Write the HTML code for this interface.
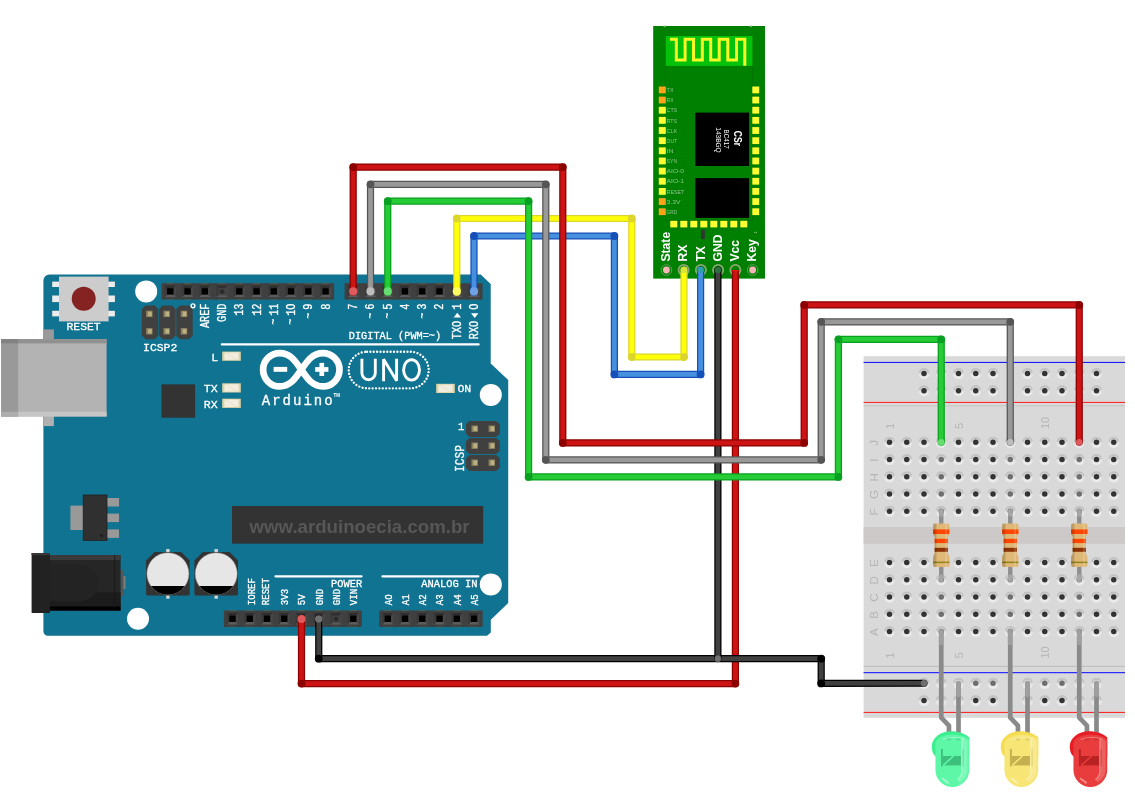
<!DOCTYPE html>
<html><head><meta charset="utf-8"><title>Arduino HC-05 LEDs</title>
<style>html,body{margin:0;padding:0;background:#fff;font-family:"Liberation Sans",sans-serif;}svg{display:block;filter:blur(0.4px);}</style>
</head><body>
<svg width="1135" height="800" viewBox="0 0 1135 800">
<defs><linearGradient id="hg" x1="0" y1="0" x2="0" y2="1"><stop offset="0" stop-color="#cdcdcd"/><stop offset="0.42" stop-color="#d6d6d6"/><stop offset="0.58" stop-color="#e4e4e4"/><stop offset="1" stop-color="#efefef"/></linearGradient><g id="h"><circle r="5.6" fill="url(#hg)"/><path d="M-4.4 -0.5 A4.43 4.43 0 0 1 4.4 -0.5" stroke="#bdbdbd" stroke-width="1.5" fill="none" opacity="0.85"/></g><g id="hd"><use href="#h"/><circle r="2.75" fill="#333"/></g><g id="hc"><use href="#h"/><circle r="2.75" fill="#6e6e6e"/></g></defs>
<rect width="1135" height="800" fill="#fff"/>
<g id="arduino">
<path d="M49.4 274.5 H480.7 L490.7 283.9 V363.5 L508.2 380 V603 L490.8 619.7 V632.5 L487 635.7 H47.8 A4.4 4.4 0 0 1 43.4 631.3 V280.5 A6 6 0 0 1 49.4 274.5 Z" fill="#0f7391"/>
<circle cx="146.2" cy="291.4" r="11" fill="#fff"/>
<circle cx="490.8" cy="394.9" r="11" fill="#fff"/>
<circle cx="138" cy="618.7" r="11" fill="#fff"/>
<circle cx="490.8" cy="584.4" r="11" fill="#fff"/>
<rect x="161.70" y="283.20" width="172.45" height="16.4" fill="#404040"/>
<path d="M164.60 285.70 H176.00 L173.50 288.20 H167.10 Z" fill="#2e2e2e"/>
<path d="M164.60 297.10 H176.00 L173.50 294.60 H167.10 Z" fill="#5c5c5c"/>
<path d="M164.60 285.70 V297.10 L167.10 294.60 V288.20 Z" fill="#393939"/>
<path d="M176.00 285.70 V297.10 L173.50 294.60 V288.20 Z" fill="#474747"/>
<rect x="167.10" y="288.20" width="6.4" height="6.4" fill="#000"/>
<rect x="166.70" y="282.90" width="7.2" height="0.7" fill="#8a6d3b" opacity="0.55"/><rect x="166.70" y="299.30" width="7.2" height="0.7" fill="#8a6d3b" opacity="0.4"/>
<path d="M181.85 285.70 H193.25 L190.75 288.20 H184.35 Z" fill="#2e2e2e"/>
<path d="M181.85 297.10 H193.25 L190.75 294.60 H184.35 Z" fill="#5c5c5c"/>
<path d="M181.85 285.70 V297.10 L184.35 294.60 V288.20 Z" fill="#393939"/>
<path d="M193.25 285.70 V297.10 L190.75 294.60 V288.20 Z" fill="#474747"/>
<rect x="184.35" y="288.20" width="6.4" height="6.4" fill="#000"/>
<rect x="183.95" y="282.90" width="7.2" height="0.7" fill="#8a6d3b" opacity="0.55"/><rect x="183.95" y="299.30" width="7.2" height="0.7" fill="#8a6d3b" opacity="0.4"/>
<path d="M199.10 285.70 H210.50 L208.00 288.20 H201.60 Z" fill="#2e2e2e"/>
<path d="M199.10 297.10 H210.50 L208.00 294.60 H201.60 Z" fill="#5c5c5c"/>
<path d="M199.10 285.70 V297.10 L201.60 294.60 V288.20 Z" fill="#393939"/>
<path d="M210.50 285.70 V297.10 L208.00 294.60 V288.20 Z" fill="#474747"/>
<rect x="201.60" y="288.20" width="6.4" height="6.4" fill="#000"/>
<rect x="201.20" y="282.90" width="7.2" height="0.7" fill="#8a6d3b" opacity="0.55"/><rect x="201.20" y="299.30" width="7.2" height="0.7" fill="#8a6d3b" opacity="0.4"/>
<path d="M216.35 285.70 H227.75 L225.25 288.20 H218.85 Z" fill="#2e2e2e"/>
<path d="M216.35 297.10 H227.75 L225.25 294.60 H218.85 Z" fill="#5c5c5c"/>
<path d="M216.35 285.70 V297.10 L218.85 294.60 V288.20 Z" fill="#393939"/>
<path d="M227.75 285.70 V297.10 L225.25 294.60 V288.20 Z" fill="#474747"/>
<rect x="218.85" y="288.20" width="6.4" height="6.4" fill="#000"/>
<rect x="218.45" y="282.90" width="7.2" height="0.7" fill="#8a6d3b" opacity="0.55"/><rect x="218.45" y="299.30" width="7.2" height="0.7" fill="#8a6d3b" opacity="0.4"/>
<path d="M233.60 285.70 H245.00 L242.50 288.20 H236.10 Z" fill="#2e2e2e"/>
<path d="M233.60 297.10 H245.00 L242.50 294.60 H236.10 Z" fill="#5c5c5c"/>
<path d="M233.60 285.70 V297.10 L236.10 294.60 V288.20 Z" fill="#393939"/>
<path d="M245.00 285.70 V297.10 L242.50 294.60 V288.20 Z" fill="#474747"/>
<rect x="236.10" y="288.20" width="6.4" height="6.4" fill="#000"/>
<rect x="235.70" y="282.90" width="7.2" height="0.7" fill="#8a6d3b" opacity="0.55"/><rect x="235.70" y="299.30" width="7.2" height="0.7" fill="#8a6d3b" opacity="0.4"/>
<path d="M250.85 285.70 H262.25 L259.75 288.20 H253.35 Z" fill="#2e2e2e"/>
<path d="M250.85 297.10 H262.25 L259.75 294.60 H253.35 Z" fill="#5c5c5c"/>
<path d="M250.85 285.70 V297.10 L253.35 294.60 V288.20 Z" fill="#393939"/>
<path d="M262.25 285.70 V297.10 L259.75 294.60 V288.20 Z" fill="#474747"/>
<rect x="253.35" y="288.20" width="6.4" height="6.4" fill="#000"/>
<rect x="252.95" y="282.90" width="7.2" height="0.7" fill="#8a6d3b" opacity="0.55"/><rect x="252.95" y="299.30" width="7.2" height="0.7" fill="#8a6d3b" opacity="0.4"/>
<path d="M268.10 285.70 H279.50 L277.00 288.20 H270.60 Z" fill="#2e2e2e"/>
<path d="M268.10 297.10 H279.50 L277.00 294.60 H270.60 Z" fill="#5c5c5c"/>
<path d="M268.10 285.70 V297.10 L270.60 294.60 V288.20 Z" fill="#393939"/>
<path d="M279.50 285.70 V297.10 L277.00 294.60 V288.20 Z" fill="#474747"/>
<rect x="270.60" y="288.20" width="6.4" height="6.4" fill="#000"/>
<rect x="270.20" y="282.90" width="7.2" height="0.7" fill="#8a6d3b" opacity="0.55"/><rect x="270.20" y="299.30" width="7.2" height="0.7" fill="#8a6d3b" opacity="0.4"/>
<path d="M285.35 285.70 H296.75 L294.25 288.20 H287.85 Z" fill="#2e2e2e"/>
<path d="M285.35 297.10 H296.75 L294.25 294.60 H287.85 Z" fill="#5c5c5c"/>
<path d="M285.35 285.70 V297.10 L287.85 294.60 V288.20 Z" fill="#393939"/>
<path d="M296.75 285.70 V297.10 L294.25 294.60 V288.20 Z" fill="#474747"/>
<rect x="287.85" y="288.20" width="6.4" height="6.4" fill="#000"/>
<rect x="287.45" y="282.90" width="7.2" height="0.7" fill="#8a6d3b" opacity="0.55"/><rect x="287.45" y="299.30" width="7.2" height="0.7" fill="#8a6d3b" opacity="0.4"/>
<path d="M302.60 285.70 H314.00 L311.50 288.20 H305.10 Z" fill="#2e2e2e"/>
<path d="M302.60 297.10 H314.00 L311.50 294.60 H305.10 Z" fill="#5c5c5c"/>
<path d="M302.60 285.70 V297.10 L305.10 294.60 V288.20 Z" fill="#393939"/>
<path d="M314.00 285.70 V297.10 L311.50 294.60 V288.20 Z" fill="#474747"/>
<rect x="305.10" y="288.20" width="6.4" height="6.4" fill="#000"/>
<rect x="304.70" y="282.90" width="7.2" height="0.7" fill="#8a6d3b" opacity="0.55"/><rect x="304.70" y="299.30" width="7.2" height="0.7" fill="#8a6d3b" opacity="0.4"/>
<path d="M319.85 285.70 H331.25 L328.75 288.20 H322.35 Z" fill="#2e2e2e"/>
<path d="M319.85 297.10 H331.25 L328.75 294.60 H322.35 Z" fill="#5c5c5c"/>
<path d="M319.85 285.70 V297.10 L322.35 294.60 V288.20 Z" fill="#393939"/>
<path d="M331.25 285.70 V297.10 L328.75 294.60 V288.20 Z" fill="#474747"/>
<rect x="322.35" y="288.20" width="6.4" height="6.4" fill="#000"/>
<rect x="321.95" y="282.90" width="7.2" height="0.7" fill="#8a6d3b" opacity="0.55"/><rect x="321.95" y="299.30" width="7.2" height="0.7" fill="#8a6d3b" opacity="0.4"/>
<rect x="344.60" y="283.20" width="137.95" height="16.4" fill="#404040"/>
<path d="M347.50 285.70 H358.90 L356.40 288.20 H350.00 Z" fill="#2e2e2e"/>
<path d="M347.50 297.10 H358.90 L356.40 294.60 H350.00 Z" fill="#5c5c5c"/>
<path d="M347.50 285.70 V297.10 L350.00 294.60 V288.20 Z" fill="#393939"/>
<path d="M358.90 285.70 V297.10 L356.40 294.60 V288.20 Z" fill="#474747"/>
<rect x="350.00" y="288.20" width="6.4" height="6.4" fill="#000"/>
<rect x="349.60" y="282.90" width="7.2" height="0.7" fill="#8a6d3b" opacity="0.55"/><rect x="349.60" y="299.30" width="7.2" height="0.7" fill="#8a6d3b" opacity="0.4"/>
<path d="M364.75 285.70 H376.15 L373.65 288.20 H367.25 Z" fill="#2e2e2e"/>
<path d="M364.75 297.10 H376.15 L373.65 294.60 H367.25 Z" fill="#5c5c5c"/>
<path d="M364.75 285.70 V297.10 L367.25 294.60 V288.20 Z" fill="#393939"/>
<path d="M376.15 285.70 V297.10 L373.65 294.60 V288.20 Z" fill="#474747"/>
<rect x="367.25" y="288.20" width="6.4" height="6.4" fill="#000"/>
<rect x="366.85" y="282.90" width="7.2" height="0.7" fill="#8a6d3b" opacity="0.55"/><rect x="366.85" y="299.30" width="7.2" height="0.7" fill="#8a6d3b" opacity="0.4"/>
<path d="M382.00 285.70 H393.40 L390.90 288.20 H384.50 Z" fill="#2e2e2e"/>
<path d="M382.00 297.10 H393.40 L390.90 294.60 H384.50 Z" fill="#5c5c5c"/>
<path d="M382.00 285.70 V297.10 L384.50 294.60 V288.20 Z" fill="#393939"/>
<path d="M393.40 285.70 V297.10 L390.90 294.60 V288.20 Z" fill="#474747"/>
<rect x="384.50" y="288.20" width="6.4" height="6.4" fill="#000"/>
<rect x="384.10" y="282.90" width="7.2" height="0.7" fill="#8a6d3b" opacity="0.55"/><rect x="384.10" y="299.30" width="7.2" height="0.7" fill="#8a6d3b" opacity="0.4"/>
<path d="M399.25 285.70 H410.65 L408.15 288.20 H401.75 Z" fill="#2e2e2e"/>
<path d="M399.25 297.10 H410.65 L408.15 294.60 H401.75 Z" fill="#5c5c5c"/>
<path d="M399.25 285.70 V297.10 L401.75 294.60 V288.20 Z" fill="#393939"/>
<path d="M410.65 285.70 V297.10 L408.15 294.60 V288.20 Z" fill="#474747"/>
<rect x="401.75" y="288.20" width="6.4" height="6.4" fill="#000"/>
<rect x="401.35" y="282.90" width="7.2" height="0.7" fill="#8a6d3b" opacity="0.55"/><rect x="401.35" y="299.30" width="7.2" height="0.7" fill="#8a6d3b" opacity="0.4"/>
<path d="M416.50 285.70 H427.90 L425.40 288.20 H419.00 Z" fill="#2e2e2e"/>
<path d="M416.50 297.10 H427.90 L425.40 294.60 H419.00 Z" fill="#5c5c5c"/>
<path d="M416.50 285.70 V297.10 L419.00 294.60 V288.20 Z" fill="#393939"/>
<path d="M427.90 285.70 V297.10 L425.40 294.60 V288.20 Z" fill="#474747"/>
<rect x="419.00" y="288.20" width="6.4" height="6.4" fill="#000"/>
<rect x="418.60" y="282.90" width="7.2" height="0.7" fill="#8a6d3b" opacity="0.55"/><rect x="418.60" y="299.30" width="7.2" height="0.7" fill="#8a6d3b" opacity="0.4"/>
<path d="M433.75 285.70 H445.15 L442.65 288.20 H436.25 Z" fill="#2e2e2e"/>
<path d="M433.75 297.10 H445.15 L442.65 294.60 H436.25 Z" fill="#5c5c5c"/>
<path d="M433.75 285.70 V297.10 L436.25 294.60 V288.20 Z" fill="#393939"/>
<path d="M445.15 285.70 V297.10 L442.65 294.60 V288.20 Z" fill="#474747"/>
<rect x="436.25" y="288.20" width="6.4" height="6.4" fill="#000"/>
<rect x="435.85" y="282.90" width="7.2" height="0.7" fill="#8a6d3b" opacity="0.55"/><rect x="435.85" y="299.30" width="7.2" height="0.7" fill="#8a6d3b" opacity="0.4"/>
<path d="M451.00 285.70 H462.40 L459.90 288.20 H453.50 Z" fill="#2e2e2e"/>
<path d="M451.00 297.10 H462.40 L459.90 294.60 H453.50 Z" fill="#5c5c5c"/>
<path d="M451.00 285.70 V297.10 L453.50 294.60 V288.20 Z" fill="#393939"/>
<path d="M462.40 285.70 V297.10 L459.90 294.60 V288.20 Z" fill="#474747"/>
<rect x="453.50" y="288.20" width="6.4" height="6.4" fill="#000"/>
<rect x="453.10" y="282.90" width="7.2" height="0.7" fill="#8a6d3b" opacity="0.55"/><rect x="453.10" y="299.30" width="7.2" height="0.7" fill="#8a6d3b" opacity="0.4"/>
<path d="M468.25 285.70 H479.65 L477.15 288.20 H470.75 Z" fill="#2e2e2e"/>
<path d="M468.25 297.10 H479.65 L477.15 294.60 H470.75 Z" fill="#5c5c5c"/>
<path d="M468.25 285.70 V297.10 L470.75 294.60 V288.20 Z" fill="#393939"/>
<path d="M479.65 285.70 V297.10 L477.15 294.60 V288.20 Z" fill="#474747"/>
<rect x="470.75" y="288.20" width="6.4" height="6.4" fill="#000"/>
<rect x="470.35" y="282.90" width="7.2" height="0.7" fill="#8a6d3b" opacity="0.55"/><rect x="470.35" y="299.30" width="7.2" height="0.7" fill="#8a6d3b" opacity="0.4"/>
<rect x="223.90" y="610.50" width="137.95" height="16.4" fill="#404040"/>
<path d="M226.80 613.00 H238.20 L235.70 615.50 H229.30 Z" fill="#2e2e2e"/>
<path d="M226.80 624.40 H238.20 L235.70 621.90 H229.30 Z" fill="#5c5c5c"/>
<path d="M226.80 613.00 V624.40 L229.30 621.90 V615.50 Z" fill="#393939"/>
<path d="M238.20 613.00 V624.40 L235.70 621.90 V615.50 Z" fill="#474747"/>
<rect x="229.30" y="615.50" width="6.4" height="6.4" fill="#000"/>
<rect x="228.90" y="610.20" width="7.2" height="0.7" fill="#8a6d3b" opacity="0.55"/><rect x="228.90" y="626.60" width="7.2" height="0.7" fill="#8a6d3b" opacity="0.4"/>
<path d="M244.05 613.00 H255.45 L252.95 615.50 H246.55 Z" fill="#2e2e2e"/>
<path d="M244.05 624.40 H255.45 L252.95 621.90 H246.55 Z" fill="#5c5c5c"/>
<path d="M244.05 613.00 V624.40 L246.55 621.90 V615.50 Z" fill="#393939"/>
<path d="M255.45 613.00 V624.40 L252.95 621.90 V615.50 Z" fill="#474747"/>
<rect x="246.55" y="615.50" width="6.4" height="6.4" fill="#000"/>
<rect x="246.15" y="610.20" width="7.2" height="0.7" fill="#8a6d3b" opacity="0.55"/><rect x="246.15" y="626.60" width="7.2" height="0.7" fill="#8a6d3b" opacity="0.4"/>
<path d="M261.30 613.00 H272.70 L270.20 615.50 H263.80 Z" fill="#2e2e2e"/>
<path d="M261.30 624.40 H272.70 L270.20 621.90 H263.80 Z" fill="#5c5c5c"/>
<path d="M261.30 613.00 V624.40 L263.80 621.90 V615.50 Z" fill="#393939"/>
<path d="M272.70 613.00 V624.40 L270.20 621.90 V615.50 Z" fill="#474747"/>
<rect x="263.80" y="615.50" width="6.4" height="6.4" fill="#000"/>
<rect x="263.40" y="610.20" width="7.2" height="0.7" fill="#8a6d3b" opacity="0.55"/><rect x="263.40" y="626.60" width="7.2" height="0.7" fill="#8a6d3b" opacity="0.4"/>
<path d="M278.55 613.00 H289.95 L287.45 615.50 H281.05 Z" fill="#2e2e2e"/>
<path d="M278.55 624.40 H289.95 L287.45 621.90 H281.05 Z" fill="#5c5c5c"/>
<path d="M278.55 613.00 V624.40 L281.05 621.90 V615.50 Z" fill="#393939"/>
<path d="M289.95 613.00 V624.40 L287.45 621.90 V615.50 Z" fill="#474747"/>
<rect x="281.05" y="615.50" width="6.4" height="6.4" fill="#000"/>
<rect x="280.65" y="610.20" width="7.2" height="0.7" fill="#8a6d3b" opacity="0.55"/><rect x="280.65" y="626.60" width="7.2" height="0.7" fill="#8a6d3b" opacity="0.4"/>
<path d="M295.80 613.00 H307.20 L304.70 615.50 H298.30 Z" fill="#2e2e2e"/>
<path d="M295.80 624.40 H307.20 L304.70 621.90 H298.30 Z" fill="#5c5c5c"/>
<path d="M295.80 613.00 V624.40 L298.30 621.90 V615.50 Z" fill="#393939"/>
<path d="M307.20 613.00 V624.40 L304.70 621.90 V615.50 Z" fill="#474747"/>
<rect x="298.30" y="615.50" width="6.4" height="6.4" fill="#000"/>
<rect x="297.90" y="610.20" width="7.2" height="0.7" fill="#8a6d3b" opacity="0.55"/><rect x="297.90" y="626.60" width="7.2" height="0.7" fill="#8a6d3b" opacity="0.4"/>
<path d="M313.05 613.00 H324.45 L321.95 615.50 H315.55 Z" fill="#2e2e2e"/>
<path d="M313.05 624.40 H324.45 L321.95 621.90 H315.55 Z" fill="#5c5c5c"/>
<path d="M313.05 613.00 V624.40 L315.55 621.90 V615.50 Z" fill="#393939"/>
<path d="M324.45 613.00 V624.40 L321.95 621.90 V615.50 Z" fill="#474747"/>
<rect x="315.55" y="615.50" width="6.4" height="6.4" fill="#000"/>
<rect x="315.15" y="610.20" width="7.2" height="0.7" fill="#8a6d3b" opacity="0.55"/><rect x="315.15" y="626.60" width="7.2" height="0.7" fill="#8a6d3b" opacity="0.4"/>
<path d="M330.30 613.00 H341.70 L339.20 615.50 H332.80 Z" fill="#2e2e2e"/>
<path d="M330.30 624.40 H341.70 L339.20 621.90 H332.80 Z" fill="#5c5c5c"/>
<path d="M330.30 613.00 V624.40 L332.80 621.90 V615.50 Z" fill="#393939"/>
<path d="M341.70 613.00 V624.40 L339.20 621.90 V615.50 Z" fill="#474747"/>
<rect x="332.80" y="615.50" width="6.4" height="6.4" fill="#000"/>
<rect x="332.40" y="610.20" width="7.2" height="0.7" fill="#8a6d3b" opacity="0.55"/><rect x="332.40" y="626.60" width="7.2" height="0.7" fill="#8a6d3b" opacity="0.4"/>
<path d="M347.55 613.00 H358.95 L356.45 615.50 H350.05 Z" fill="#2e2e2e"/>
<path d="M347.55 624.40 H358.95 L356.45 621.90 H350.05 Z" fill="#5c5c5c"/>
<path d="M347.55 613.00 V624.40 L350.05 621.90 V615.50 Z" fill="#393939"/>
<path d="M358.95 613.00 V624.40 L356.45 621.90 V615.50 Z" fill="#474747"/>
<rect x="350.05" y="615.50" width="6.4" height="6.4" fill="#000"/>
<rect x="349.65" y="610.20" width="7.2" height="0.7" fill="#8a6d3b" opacity="0.55"/><rect x="349.65" y="626.60" width="7.2" height="0.7" fill="#8a6d3b" opacity="0.4"/>
<rect x="379.20" y="610.50" width="103.45" height="16.4" fill="#404040"/>
<path d="M382.10 613.00 H393.50 L391.00 615.50 H384.60 Z" fill="#2e2e2e"/>
<path d="M382.10 624.40 H393.50 L391.00 621.90 H384.60 Z" fill="#5c5c5c"/>
<path d="M382.10 613.00 V624.40 L384.60 621.90 V615.50 Z" fill="#393939"/>
<path d="M393.50 613.00 V624.40 L391.00 621.90 V615.50 Z" fill="#474747"/>
<rect x="384.60" y="615.50" width="6.4" height="6.4" fill="#000"/>
<rect x="384.20" y="610.20" width="7.2" height="0.7" fill="#8a6d3b" opacity="0.55"/><rect x="384.20" y="626.60" width="7.2" height="0.7" fill="#8a6d3b" opacity="0.4"/>
<path d="M399.35 613.00 H410.75 L408.25 615.50 H401.85 Z" fill="#2e2e2e"/>
<path d="M399.35 624.40 H410.75 L408.25 621.90 H401.85 Z" fill="#5c5c5c"/>
<path d="M399.35 613.00 V624.40 L401.85 621.90 V615.50 Z" fill="#393939"/>
<path d="M410.75 613.00 V624.40 L408.25 621.90 V615.50 Z" fill="#474747"/>
<rect x="401.85" y="615.50" width="6.4" height="6.4" fill="#000"/>
<rect x="401.45" y="610.20" width="7.2" height="0.7" fill="#8a6d3b" opacity="0.55"/><rect x="401.45" y="626.60" width="7.2" height="0.7" fill="#8a6d3b" opacity="0.4"/>
<path d="M416.60 613.00 H428.00 L425.50 615.50 H419.10 Z" fill="#2e2e2e"/>
<path d="M416.60 624.40 H428.00 L425.50 621.90 H419.10 Z" fill="#5c5c5c"/>
<path d="M416.60 613.00 V624.40 L419.10 621.90 V615.50 Z" fill="#393939"/>
<path d="M428.00 613.00 V624.40 L425.50 621.90 V615.50 Z" fill="#474747"/>
<rect x="419.10" y="615.50" width="6.4" height="6.4" fill="#000"/>
<rect x="418.70" y="610.20" width="7.2" height="0.7" fill="#8a6d3b" opacity="0.55"/><rect x="418.70" y="626.60" width="7.2" height="0.7" fill="#8a6d3b" opacity="0.4"/>
<path d="M433.85 613.00 H445.25 L442.75 615.50 H436.35 Z" fill="#2e2e2e"/>
<path d="M433.85 624.40 H445.25 L442.75 621.90 H436.35 Z" fill="#5c5c5c"/>
<path d="M433.85 613.00 V624.40 L436.35 621.90 V615.50 Z" fill="#393939"/>
<path d="M445.25 613.00 V624.40 L442.75 621.90 V615.50 Z" fill="#474747"/>
<rect x="436.35" y="615.50" width="6.4" height="6.4" fill="#000"/>
<rect x="435.95" y="610.20" width="7.2" height="0.7" fill="#8a6d3b" opacity="0.55"/><rect x="435.95" y="626.60" width="7.2" height="0.7" fill="#8a6d3b" opacity="0.4"/>
<path d="M451.10 613.00 H462.50 L460.00 615.50 H453.60 Z" fill="#2e2e2e"/>
<path d="M451.10 624.40 H462.50 L460.00 621.90 H453.60 Z" fill="#5c5c5c"/>
<path d="M451.10 613.00 V624.40 L453.60 621.90 V615.50 Z" fill="#393939"/>
<path d="M462.50 613.00 V624.40 L460.00 621.90 V615.50 Z" fill="#474747"/>
<rect x="453.60" y="615.50" width="6.4" height="6.4" fill="#000"/>
<rect x="453.20" y="610.20" width="7.2" height="0.7" fill="#8a6d3b" opacity="0.55"/><rect x="453.20" y="626.60" width="7.2" height="0.7" fill="#8a6d3b" opacity="0.4"/>
<path d="M468.35 613.00 H479.75 L477.25 615.50 H470.85 Z" fill="#2e2e2e"/>
<path d="M468.35 624.40 H479.75 L477.25 621.90 H470.85 Z" fill="#5c5c5c"/>
<path d="M468.35 613.00 V624.40 L470.85 621.90 V615.50 Z" fill="#393939"/>
<path d="M479.75 613.00 V624.40 L477.25 621.90 V615.50 Z" fill="#474747"/>
<rect x="470.85" y="615.50" width="6.4" height="6.4" fill="#000"/>
<rect x="470.45" y="610.20" width="7.2" height="0.7" fill="#8a6d3b" opacity="0.55"/><rect x="470.45" y="626.60" width="7.2" height="0.7" fill="#8a6d3b" opacity="0.4"/>
<rect x="218.4" y="287.9" width="7.4" height="7.4" fill="#404040"/><circle cx="222.1" cy="291.5" r="2.9" fill="#2a2a2a" stroke="#555" stroke-width="0.6"/>
<rect x="332.3" y="615.3" width="7.4" height="7.4" fill="#404040"/><circle cx="336" cy="619" r="2.9" fill="#2a2a2a" stroke="#555" stroke-width="0.6"/>
<rect x="52.2" y="281.6" width="62.7" height="5.4" fill="#ececec"/>
<rect x="52.2" y="295.5" width="62.7" height="6.6" fill="#ececec"/>
<rect x="52.2" y="310.8" width="62.7" height="5.6" fill="#ececec"/>
<rect x="59" y="276.6" width="49.6" height="44.8" fill="#cccccc"/>
<circle cx="83.7" cy="298.8" r="12" fill="#852323"/>
<path d="M145.50 305.4 H154.70 L158.30 309 V335.6 L154.70 339.2 H145.50 L141.90 335.6 V309 Z" fill="#404040"/>
<rect x="146.10" y="310.70" width="6.4" height="6.4" fill="#8d835c"/>
<rect x="148.10" y="311.70" width="3.6" height="4.4" fill="#bdb286"/>
<rect x="146.10" y="328.10" width="6.4" height="6.4" fill="#8d835c"/>
<rect x="148.10" y="329.10" width="3.6" height="4.4" fill="#bdb286"/>
<path d="M162.70 305.4 H171.90 L175.50 309 V335.6 L171.90 339.2 H162.70 L159.10 335.6 V309 Z" fill="#404040"/>
<rect x="163.45" y="310.70" width="6.4" height="6.4" fill="#8d835c"/>
<rect x="165.45" y="311.70" width="3.6" height="4.4" fill="#bdb286"/>
<rect x="163.45" y="328.10" width="6.4" height="6.4" fill="#8d835c"/>
<rect x="165.45" y="329.10" width="3.6" height="4.4" fill="#bdb286"/>
<path d="M179.90 305.4 H189.10 L192.70 309 V335.6 L189.10 339.2 H179.90 L176.30 335.6 V309 Z" fill="#404040"/>
<rect x="180.80" y="310.70" width="6.4" height="6.4" fill="#8d835c"/>
<rect x="182.80" y="311.70" width="3.6" height="4.4" fill="#bdb286"/>
<rect x="180.80" y="328.10" width="6.4" height="6.4" fill="#8d835c"/>
<rect x="182.80" y="329.10" width="3.6" height="4.4" fill="#bdb286"/>
<circle cx="193" cy="305.8" r="1.9" fill="#0f7391" stroke="#fff" stroke-width="1.4"/>
<path d="M469.6 420.90 H496.2 L499.8 424.30 V433.50 L496.2 436.90 H469.6 L466 433.50 V424.30 Z" fill="#404040"/>
<rect x="471.50" y="425.50" width="6.4" height="6.4" fill="#8d835c"/>
<rect x="473.50" y="426.50" width="3.6" height="4.4" fill="#bdb286"/>
<rect x="488.60" y="425.50" width="6.4" height="6.4" fill="#8d835c"/>
<rect x="490.60" y="426.50" width="3.6" height="4.4" fill="#bdb286"/>
<path d="M469.6 437.90 H496.2 L499.8 441.30 V450.50 L496.2 453.90 H469.6 L466 450.50 V441.30 Z" fill="#404040"/>
<rect x="471.50" y="442.50" width="6.4" height="6.4" fill="#8d835c"/>
<rect x="473.50" y="443.50" width="3.6" height="4.4" fill="#bdb286"/>
<rect x="488.60" y="442.50" width="6.4" height="6.4" fill="#8d835c"/>
<rect x="490.60" y="443.50" width="3.6" height="4.4" fill="#bdb286"/>
<path d="M469.6 454.90 H496.2 L499.8 458.30 V467.50 L496.2 470.90 H469.6 L466 467.50 V458.30 Z" fill="#404040"/>
<rect x="471.50" y="459.50" width="6.4" height="6.4" fill="#8d835c"/>
<rect x="473.50" y="460.50" width="3.6" height="4.4" fill="#bdb286"/>
<rect x="488.60" y="459.50" width="6.4" height="6.4" fill="#8d835c"/>
<rect x="490.60" y="460.50" width="3.6" height="4.4" fill="#bdb286"/>
<rect x="43.6" y="329.4" width="10.3" height="10" fill="#999"/>
<rect x="43.6" y="416" width="10.3" height="10.1" fill="#b0b0b0"/>
<rect x="1.1" y="339.1" width="105.5" height="77.4" fill="#b3b3b3"/>
<rect x="1.1" y="339.1" width="105.5" height="4.3" fill="#919191"/>
<rect x="1.1" y="411.7" width="105.5" height="4.8" fill="#c6c6c6"/>
<rect x="1.1" y="339.1" width="17.1" height="77.4" fill="#999"/>
<rect x="1.1" y="339.1" width="17.1" height="4.3" fill="#828282"/>
<rect x="1.1" y="411.7" width="17.1" height="4.8" fill="#adadad"/>
<rect x="161.5" y="384.4" width="33.6" height="33.3" fill="#333"/>
<rect x="222.2" y="351.6" width="18.6" height="9.2" fill="#e0d4a4"/>
<rect x="224.39999999999998" y="352.5" width="14.2" height="7.4" fill="#f1ede0"/>
<path d="M224.39999999999998 353.0 C230.2 353.0 232.2 359.6 238.6 359.6" stroke="#e3d9b0" stroke-width="0.6" fill="none"/>
<rect x="222.2" y="383.3" width="18.6" height="9.2" fill="#e0d4a4"/>
<rect x="224.39999999999998" y="384.2" width="14.2" height="7.4" fill="#f1ede0"/>
<path d="M224.39999999999998 384.7 C230.2 384.7 232.2 391.3 238.6 391.3" stroke="#e3d9b0" stroke-width="0.6" fill="none"/>
<rect x="222.2" y="398.7" width="18.6" height="9.2" fill="#e0d4a4"/>
<rect x="224.39999999999998" y="399.59999999999997" width="14.2" height="7.4" fill="#f1ede0"/>
<path d="M224.39999999999998 400.09999999999997 C230.2 400.09999999999997 232.2 406.7 238.6 406.7" stroke="#e3d9b0" stroke-width="0.6" fill="none"/>
<rect x="436.2" y="383.8" width="18.6" height="9.2" fill="#e0d4a4"/>
<rect x="438.4" y="384.7" width="14.2" height="7.4" fill="#f1ede0"/>
<path d="M438.4 385.2 C444.2 385.2 446.2 391.8 452.59999999999997 391.8" stroke="#e3d9b0" stroke-width="0.6" fill="none"/>
<path d="M221.8 344.4 H478.6" stroke="#fff" stroke-width="2.2" stroke-linecap="round"/>
<path d="M275.4 576.3 H361.6" stroke="#fff" stroke-width="2.2" stroke-linecap="round"/>
<path d="M382.4 576.3 H478.4" stroke="#fff" stroke-width="2.2" stroke-linecap="round"/>
<path d="M301.3 369.75 C307.10 361.15 312.45 353.1 322.85 353.1 A16.65 16.65 0 0 1 322.85 386.4 C312.45 386.4 307.10 378.35 301.3 369.75 C295.50 361.15 290.15 353.1 279.75 353.1 A16.65 16.65 0 0 0 279.75 386.4 C290.15 386.4 295.50 378.35 301.3 369.75 Z" fill="none" stroke="#fff" stroke-width="6.7"/>
<rect x="273.6" y="366.9" width="13.6" height="4.9" fill="#fff"/>
<rect x="315.2" y="367.1" width="13.2" height="4.7" fill="#fff"/><rect x="319.45" y="362.9" width="4.7" height="13.1" fill="#fff"/>
<rect x="348.7" y="351.7" width="80" height="36.6" rx="18.3" fill="none" stroke="#fff" stroke-width="2.35" stroke-dasharray="0.01 3.363" stroke-linecap="round"/>
<g fill="none" stroke="#fff" stroke-width="2.9" stroke-linejoin="bevel">
<path d="M361.9 358.7 V373.1 A6.7 6.7 0 0 0 375.3 373.1 V358.7"/>
<path d="M383.6 381.2 V359.2 L396.6 380.8 V358.7"/>
<ellipse cx="411.55" cy="369.9" rx="7.95" ry="10.2"/>
</g>
<rect x="232" y="506" width="251.2" height="37.6" fill="#333"/>
<text x="249.6" y="532.6" font-family="Liberation Sans, sans-serif" font-weight="bold" font-size="19" fill="#575757" textLength="220" lengthAdjust="spacingAndGlyphs">www.arduinoecia.com.br</text>
<rect x="70.4" y="505.6" width="13" height="24.4" fill="#999"/>
<rect x="106.8" y="498" width="12.2" height="8.5" fill="#999"/>
<rect x="106.8" y="513.6" width="12.2" height="8.5" fill="#999"/>
<rect x="106.8" y="529.4" width="12.2" height="8.5" fill="#999"/>
<rect x="83.2" y="495" width="23.8" height="45.4" fill="#303030" stroke="#222" stroke-width="0.8"/>
<circle cx="101.6" cy="535.6" r="1.4" fill="#1a1a1a"/>
<rect x="120.4" y="570" width="3.2" height="26" fill="#555"/><rect x="123.4" y="576" width="2.2" height="13" fill="#7a7a7a"/>
<rect x="50" y="555" width="70.6" height="55.6" fill="#262626"/>
<rect x="50" y="555" width="70.6" height="5" fill="#3a3a3a"/>
<rect x="50" y="592.4" width="70.6" height="14" fill="#1c1c1c"/>
<rect x="50" y="606.4" width="70.6" height="4.2" fill="#000"/>
<path d="M50 565 H80 A18.2 18.2 0 0 1 80 601.4 H50 Z" fill="#232323"/>
<rect x="114.4" y="555" width="0.8" height="55.6" fill="#151515"/>
<rect x="31.6" y="553" width="18.4" height="60" fill="#222"/>
<rect x="31.6" y="553" width="18.4" height="2.2" fill="#383838"/>
<rect x="166.20000000000002" y="549.0" width="3.4" height="49.7" fill="#d4d4d4"/>
<path d="M154.6 551.9000000000001 H181.20000000000002 L189.70000000000002 560.4000000000001 V593.9000000000001 Q189.70000000000002 595.5 188.1 595.5 H147.70000000000002 Q146.1 595.5 146.1 593.9000000000001 V560.4000000000001 Z" fill="#333"/>
<circle cx="167.9" cy="573.7" r="21" fill="#e6e6e6" stroke="#9a9a9a" stroke-width="0.5"/>
<path d="M150.88 586.00 H184.92 A21 21 0 0 1 150.88 586.00 Z" fill="#000"/>
<rect x="214.5" y="549.0" width="3.4" height="49.7" fill="#d4d4d4"/>
<path d="M202.89999999999998 551.9000000000001 H229.5 L238.0 560.4000000000001 V593.9000000000001 Q238.0 595.5 236.39999999999998 595.5 H196.0 Q194.39999999999998 595.5 194.39999999999998 593.9000000000001 V560.4000000000001 Z" fill="#333"/>
<circle cx="216.2" cy="573.7" r="21" fill="#e6e6e6" stroke="#9a9a9a" stroke-width="0.5"/>
<path d="M199.18 586.00 H233.22 A21 21 0 0 1 199.18 586.00 Z" fill="#000"/>
<text transform="translate(83.6 330.4)" font-family="Liberation Mono, monospace" font-size="11.4" font-weight="normal" fill="#fff" stroke="#fff" stroke-width="0.3" text-anchor="middle" letter-spacing="0">RESET</text>
<text transform="translate(160.2 350.8)" font-family="Liberation Mono, monospace" font-size="11.4" font-weight="normal" fill="#fff" stroke="#fff" stroke-width="0.3" text-anchor="middle" letter-spacing="0">ICSP2</text>
<text transform="translate(218.2 360.5)" font-family="Liberation Mono, monospace" font-size="11.6" font-weight="normal" fill="#fff" stroke="#fff" stroke-width="0.3" text-anchor="end" letter-spacing="0">L</text>
<text transform="translate(217.6 392.2)" font-family="Liberation Mono, monospace" font-size="11.6" font-weight="normal" fill="#fff" stroke="#fff" stroke-width="0.3" text-anchor="end" letter-spacing="0">TX</text>
<text transform="translate(217.6 408.0)" font-family="Liberation Mono, monospace" font-size="11.6" font-weight="normal" fill="#fff" stroke="#fff" stroke-width="0.3" text-anchor="end" letter-spacing="0">RX</text>
<text transform="translate(457.4 392.4)" font-family="Liberation Mono, monospace" font-size="11.6" font-weight="normal" fill="#fff" stroke="#fff" stroke-width="0.3" text-anchor="start" letter-spacing="0">ON</text>
<text transform="translate(441.2 339.2)" font-family="Liberation Mono, monospace" font-size="10.2" font-weight="normal" fill="#fff" stroke="#fff" stroke-width="0.3" text-anchor="end" letter-spacing="0.05">DIGITAL (PWM=~)</text>
<text transform="translate(362.2 587.3)" font-family="Liberation Mono, monospace" font-size="10.4" font-weight="normal" fill="#fff" stroke="#fff" stroke-width="0.3" text-anchor="end" letter-spacing="0">POWER</text>
<text transform="translate(477.4 587.3)" font-family="Liberation Mono, monospace" font-size="10.4" font-weight="normal" fill="#fff" stroke="#fff" stroke-width="0.3" text-anchor="end" letter-spacing="0">ANALOG IN</text>
<text transform="translate(261.8 405.3)" font-family="Liberation Mono, monospace" font-size="14" font-weight="normal" fill="#fff" stroke="#fff" stroke-width="0.3" text-anchor="start" letter-spacing="2.0">Arduino</text>
<text x="333.4" y="397.2" font-family="Liberation Sans, sans-serif" font-size="4.7" font-weight="bold" fill="#fff" textLength="6.6" lengthAdjust="spacingAndGlyphs">TM</text>
<text transform="translate(464.2 430.2) scale(0.9 1)" font-family="Liberation Mono, monospace" font-size="11.5" font-weight="normal" fill="#fff" stroke="#fff" stroke-width="0.3" text-anchor="end" letter-spacing="0">1</text>
<text transform="translate(464.0 471.9) rotate(-90) scale(0.93 1)" font-family="Liberation Mono, monospace" font-size="12" font-weight="normal" fill="#fff" stroke="#fff" stroke-width="0.3" text-anchor="start" letter-spacing="0">ICSP</text>
<text transform="translate(208.8 303.5) rotate(-90) scale(0.855 1)" font-family="Liberation Mono, monospace" font-size="12" font-weight="normal" fill="#fff" stroke="#fff" stroke-width="0.3" text-anchor="end" letter-spacing="0">AREF</text>
<text transform="translate(226.05 303.5) rotate(-90) scale(0.855 1)" font-family="Liberation Mono, monospace" font-size="12" font-weight="normal" fill="#fff" stroke="#fff" stroke-width="0.3" text-anchor="end" letter-spacing="0">GND</text>
<text transform="translate(243.3 303.5) rotate(-90) scale(0.855 1)" font-family="Liberation Mono, monospace" font-size="12" font-weight="normal" fill="#fff" stroke="#fff" stroke-width="0.3" text-anchor="end" letter-spacing="0">13</text>
<text transform="translate(260.55 303.5) rotate(-90) scale(0.855 1)" font-family="Liberation Mono, monospace" font-size="12" font-weight="normal" fill="#fff" stroke="#fff" stroke-width="0.3" text-anchor="end" letter-spacing="0">12</text>
<text transform="translate(277.8 303.5) rotate(-90) scale(0.855 1)" font-family="Liberation Mono, monospace" font-size="12" font-weight="normal" fill="#fff" stroke="#fff" stroke-width="0.3" text-anchor="end" letter-spacing="0">11</text>
<text transform="translate(277.2 321.8) rotate(-90) scale(0.855 1)" font-family="Liberation Mono, monospace" font-size="11" font-weight="normal" fill="#fff" stroke="#fff" stroke-width="0.3" text-anchor="middle" letter-spacing="0">~</text>
<text transform="translate(295.05 303.5) rotate(-90) scale(0.855 1)" font-family="Liberation Mono, monospace" font-size="12" font-weight="normal" fill="#fff" stroke="#fff" stroke-width="0.3" text-anchor="end" letter-spacing="0">1O</text>
<text transform="translate(294.45 321.8) rotate(-90) scale(0.855 1)" font-family="Liberation Mono, monospace" font-size="11" font-weight="normal" fill="#fff" stroke="#fff" stroke-width="0.3" text-anchor="middle" letter-spacing="0">~</text>
<text transform="translate(312.3 303.5) rotate(-90) scale(0.855 1)" font-family="Liberation Mono, monospace" font-size="12" font-weight="normal" fill="#fff" stroke="#fff" stroke-width="0.3" text-anchor="end" letter-spacing="0">9</text>
<text transform="translate(311.7 315.65) rotate(-90) scale(0.855 1)" font-family="Liberation Mono, monospace" font-size="11" font-weight="normal" fill="#fff" stroke="#fff" stroke-width="0.3" text-anchor="middle" letter-spacing="0">~</text>
<text transform="translate(329.55 303.5) rotate(-90) scale(0.855 1)" font-family="Liberation Mono, monospace" font-size="12" font-weight="normal" fill="#fff" stroke="#fff" stroke-width="0.3" text-anchor="end" letter-spacing="0">8</text>
<text transform="translate(357.2 303.5) rotate(-90) scale(0.855 1)" font-family="Liberation Mono, monospace" font-size="12" font-weight="normal" fill="#fff" stroke="#fff" stroke-width="0.3" text-anchor="end" letter-spacing="0">7</text>
<text transform="translate(374.45 303.5) rotate(-90) scale(0.855 1)" font-family="Liberation Mono, monospace" font-size="12" font-weight="normal" fill="#fff" stroke="#fff" stroke-width="0.3" text-anchor="end" letter-spacing="0">6</text>
<text transform="translate(373.84999999999997 315.65) rotate(-90) scale(0.855 1)" font-family="Liberation Mono, monospace" font-size="11" font-weight="normal" fill="#fff" stroke="#fff" stroke-width="0.3" text-anchor="middle" letter-spacing="0">~</text>
<text transform="translate(391.7 303.5) rotate(-90) scale(0.855 1)" font-family="Liberation Mono, monospace" font-size="12" font-weight="normal" fill="#fff" stroke="#fff" stroke-width="0.3" text-anchor="end" letter-spacing="0">5</text>
<text transform="translate(391.09999999999997 315.65) rotate(-90) scale(0.855 1)" font-family="Liberation Mono, monospace" font-size="11" font-weight="normal" fill="#fff" stroke="#fff" stroke-width="0.3" text-anchor="middle" letter-spacing="0">~</text>
<text transform="translate(408.95 303.5) rotate(-90) scale(0.855 1)" font-family="Liberation Mono, monospace" font-size="12" font-weight="normal" fill="#fff" stroke="#fff" stroke-width="0.3" text-anchor="end" letter-spacing="0">4</text>
<text transform="translate(426.2 303.5) rotate(-90) scale(0.855 1)" font-family="Liberation Mono, monospace" font-size="12" font-weight="normal" fill="#fff" stroke="#fff" stroke-width="0.3" text-anchor="end" letter-spacing="0">3</text>
<text transform="translate(425.59999999999997 315.65) rotate(-90) scale(0.855 1)" font-family="Liberation Mono, monospace" font-size="11" font-weight="normal" fill="#fff" stroke="#fff" stroke-width="0.3" text-anchor="middle" letter-spacing="0">~</text>
<text transform="translate(443.45 303.5) rotate(-90) scale(0.855 1)" font-family="Liberation Mono, monospace" font-size="12" font-weight="normal" fill="#fff" stroke="#fff" stroke-width="0.3" text-anchor="end" letter-spacing="0">2</text>
<text transform="translate(460.8 303.5) rotate(-90) scale(0.855 1)" font-family="Liberation Mono, monospace" font-size="12" font-weight="normal" fill="#fff" stroke="#fff" stroke-width="0.3" text-anchor="end" letter-spacing="0">1</text>
<text transform="translate(460.8 320.8) rotate(-90) scale(0.855 1)" font-family="Liberation Mono, monospace" font-size="12" font-weight="normal" fill="#fff" stroke="#fff" stroke-width="0.3" text-anchor="end" letter-spacing="0">TXO</text>
<path d="M457.3 312.8 L461 317.5 H453.6 Z" fill="#fff"/>
<text transform="translate(478.05 303.5) rotate(-90) scale(0.855 1)" font-family="Liberation Mono, monospace" font-size="12" font-weight="normal" fill="#fff" stroke="#fff" stroke-width="0.3" text-anchor="end" letter-spacing="0">O</text>
<text transform="translate(478.05 320.8) rotate(-90) scale(0.855 1)" font-family="Liberation Mono, monospace" font-size="12" font-weight="normal" fill="#fff" stroke="#fff" stroke-width="0.3" text-anchor="end" letter-spacing="0">RXO</text>
<path d="M474.7 317.9 L478.4 313.2 H471 Z" fill="#fff"/>
<text transform="translate(254.65 605.2) rotate(-90) scale(0.8 1)" font-family="Liberation Mono, monospace" font-size="11.3" font-weight="normal" fill="#fff" stroke="#fff" stroke-width="0.3" text-anchor="start" letter-spacing="0">IOREF</text>
<text transform="translate(269.45 605.2) rotate(-90) scale(0.8 1)" font-family="Liberation Mono, monospace" font-size="11.3" font-weight="normal" fill="#fff" stroke="#fff" stroke-width="0.3" text-anchor="start" letter-spacing="0">RESET</text>
<text transform="translate(288.15 605.2) rotate(-90) scale(0.8 1)" font-family="Liberation Mono, monospace" font-size="11.3" font-weight="normal" fill="#fff" stroke="#fff" stroke-width="0.3" text-anchor="start" letter-spacing="0">3V3</text>
<text transform="translate(305.25 605.2) rotate(-90) scale(0.8 1)" font-family="Liberation Mono, monospace" font-size="11.3" font-weight="normal" fill="#fff" stroke="#fff" stroke-width="0.3" text-anchor="start" letter-spacing="0">5V</text>
<text transform="translate(322.65 605.2) rotate(-90) scale(0.8 1)" font-family="Liberation Mono, monospace" font-size="11.3" font-weight="normal" fill="#fff" stroke="#fff" stroke-width="0.3" text-anchor="start" letter-spacing="0">GND</text>
<text transform="translate(339.75 605.2) rotate(-90) scale(0.8 1)" font-family="Liberation Mono, monospace" font-size="11.3" font-weight="normal" fill="#fff" stroke="#fff" stroke-width="0.3" text-anchor="start" letter-spacing="0">GND</text>
<text transform="translate(356.95 605.2) rotate(-90) scale(0.8 1)" font-family="Liberation Mono, monospace" font-size="11.3" font-weight="normal" fill="#fff" stroke="#fff" stroke-width="0.3" text-anchor="start" letter-spacing="0">VIN</text>
<text transform="translate(391.55 605.2) rotate(-90) scale(0.8 1)" font-family="Liberation Mono, monospace" font-size="11.3" font-weight="normal" fill="#fff" stroke="#fff" stroke-width="0.3" text-anchor="start" letter-spacing="0">AO</text>
<text transform="translate(408.8 605.2) rotate(-90) scale(0.8 1)" font-family="Liberation Mono, monospace" font-size="11.3" font-weight="normal" fill="#fff" stroke="#fff" stroke-width="0.3" text-anchor="start" letter-spacing="0">A1</text>
<text transform="translate(426.05 605.2) rotate(-90) scale(0.8 1)" font-family="Liberation Mono, monospace" font-size="11.3" font-weight="normal" fill="#fff" stroke="#fff" stroke-width="0.3" text-anchor="start" letter-spacing="0">A2</text>
<text transform="translate(443.3 605.2) rotate(-90) scale(0.8 1)" font-family="Liberation Mono, monospace" font-size="11.3" font-weight="normal" fill="#fff" stroke="#fff" stroke-width="0.3" text-anchor="start" letter-spacing="0">A3</text>
<text transform="translate(460.55 605.2) rotate(-90) scale(0.8 1)" font-family="Liberation Mono, monospace" font-size="11.3" font-weight="normal" fill="#fff" stroke="#fff" stroke-width="0.3" text-anchor="start" letter-spacing="0">A4</text>
<text transform="translate(477.8 605.2) rotate(-90) scale(0.8 1)" font-family="Liberation Mono, monospace" font-size="11.3" font-weight="normal" fill="#fff" stroke="#fff" stroke-width="0.3" text-anchor="start" letter-spacing="0">A5</text>
</g>
<g id="bb">
<rect x="863.6" y="356.2" width="261.4" height="361.6" fill="#d9d9d9"/>
<rect x="863.6" y="527" width="261.4" height="16.8" fill="#cdc9c9"/>
<rect x="863.6" y="405.4" width="261.4" height="0.9" fill="#c2c2c2"/>
<rect x="863.6" y="665.9" width="261.4" height="0.9" fill="#b8b8b8"/>
<rect x="863.6" y="361.9" width="261.4" height="1.1" fill="#1a1aff"/>
<rect x="863.6" y="672.1" width="261.4" height="1.1" fill="#1a1aff"/>
<rect x="863.6" y="401.9" width="261.4" height="1.1" fill="#ff2a2a"/>
<rect x="863.6" y="711.9" width="261.4" height="1.1" fill="#ff2a2a"/>
<use href="#hd" x="889.50" y="442.25"/>
<use href="#hd" x="906.75" y="442.25"/>
<use href="#hd" x="924.00" y="442.25"/>
<use href="#hc" x="941.25" y="442.25"/>
<use href="#hd" x="958.50" y="442.25"/>
<use href="#hd" x="975.75" y="442.25"/>
<use href="#hd" x="993.00" y="442.25"/>
<use href="#hc" x="1010.25" y="442.25"/>
<use href="#hd" x="1027.50" y="442.25"/>
<use href="#hd" x="1044.75" y="442.25"/>
<use href="#hd" x="1062.00" y="442.25"/>
<use href="#hc" x="1079.25" y="442.25"/>
<use href="#hd" x="1096.50" y="442.25"/>
<use href="#hd" x="1113.75" y="442.25"/>
<use href="#hd" x="889.50" y="459.50"/>
<use href="#hd" x="906.75" y="459.50"/>
<use href="#hd" x="924.00" y="459.50"/>
<use href="#hc" x="941.25" y="459.50"/>
<use href="#hd" x="958.50" y="459.50"/>
<use href="#hd" x="975.75" y="459.50"/>
<use href="#hd" x="993.00" y="459.50"/>
<use href="#hc" x="1010.25" y="459.50"/>
<use href="#hd" x="1027.50" y="459.50"/>
<use href="#hd" x="1044.75" y="459.50"/>
<use href="#hd" x="1062.00" y="459.50"/>
<use href="#hc" x="1079.25" y="459.50"/>
<use href="#hd" x="1096.50" y="459.50"/>
<use href="#hd" x="1113.75" y="459.50"/>
<use href="#hd" x="889.50" y="476.75"/>
<use href="#hd" x="906.75" y="476.75"/>
<use href="#hd" x="924.00" y="476.75"/>
<use href="#hc" x="941.25" y="476.75"/>
<use href="#hd" x="958.50" y="476.75"/>
<use href="#hd" x="975.75" y="476.75"/>
<use href="#hd" x="993.00" y="476.75"/>
<use href="#hc" x="1010.25" y="476.75"/>
<use href="#hd" x="1027.50" y="476.75"/>
<use href="#hd" x="1044.75" y="476.75"/>
<use href="#hd" x="1062.00" y="476.75"/>
<use href="#hc" x="1079.25" y="476.75"/>
<use href="#hd" x="1096.50" y="476.75"/>
<use href="#hd" x="1113.75" y="476.75"/>
<use href="#hd" x="889.50" y="494.00"/>
<use href="#hd" x="906.75" y="494.00"/>
<use href="#hd" x="924.00" y="494.00"/>
<use href="#hc" x="941.25" y="494.00"/>
<use href="#hd" x="958.50" y="494.00"/>
<use href="#hd" x="975.75" y="494.00"/>
<use href="#hd" x="993.00" y="494.00"/>
<use href="#hc" x="1010.25" y="494.00"/>
<use href="#hd" x="1027.50" y="494.00"/>
<use href="#hd" x="1044.75" y="494.00"/>
<use href="#hd" x="1062.00" y="494.00"/>
<use href="#hc" x="1079.25" y="494.00"/>
<use href="#hd" x="1096.50" y="494.00"/>
<use href="#hd" x="1113.75" y="494.00"/>
<use href="#hd" x="889.50" y="511.25"/>
<use href="#hd" x="906.75" y="511.25"/>
<use href="#hd" x="924.00" y="511.25"/>
<use href="#hc" x="941.25" y="511.25"/>
<use href="#hd" x="958.50" y="511.25"/>
<use href="#hd" x="975.75" y="511.25"/>
<use href="#hd" x="993.00" y="511.25"/>
<use href="#hc" x="1010.25" y="511.25"/>
<use href="#hd" x="1027.50" y="511.25"/>
<use href="#hd" x="1044.75" y="511.25"/>
<use href="#hd" x="1062.00" y="511.25"/>
<use href="#hc" x="1079.25" y="511.25"/>
<use href="#hd" x="1096.50" y="511.25"/>
<use href="#hd" x="1113.75" y="511.25"/>
<use href="#hd" x="889.50" y="562.50"/>
<use href="#hd" x="906.75" y="562.50"/>
<use href="#hd" x="924.00" y="562.50"/>
<use href="#hc" x="941.25" y="562.50"/>
<use href="#hd" x="958.50" y="562.50"/>
<use href="#hd" x="975.75" y="562.50"/>
<use href="#hd" x="993.00" y="562.50"/>
<use href="#hc" x="1010.25" y="562.50"/>
<use href="#hd" x="1027.50" y="562.50"/>
<use href="#hd" x="1044.75" y="562.50"/>
<use href="#hd" x="1062.00" y="562.50"/>
<use href="#hc" x="1079.25" y="562.50"/>
<use href="#hd" x="1096.50" y="562.50"/>
<use href="#hd" x="1113.75" y="562.50"/>
<use href="#hd" x="889.50" y="579.75"/>
<use href="#hd" x="906.75" y="579.75"/>
<use href="#hd" x="924.00" y="579.75"/>
<use href="#hc" x="941.25" y="579.75"/>
<use href="#hd" x="958.50" y="579.75"/>
<use href="#hd" x="975.75" y="579.75"/>
<use href="#hd" x="993.00" y="579.75"/>
<use href="#hc" x="1010.25" y="579.75"/>
<use href="#hd" x="1027.50" y="579.75"/>
<use href="#hd" x="1044.75" y="579.75"/>
<use href="#hd" x="1062.00" y="579.75"/>
<use href="#hc" x="1079.25" y="579.75"/>
<use href="#hd" x="1096.50" y="579.75"/>
<use href="#hd" x="1113.75" y="579.75"/>
<use href="#hd" x="889.50" y="597.00"/>
<use href="#hd" x="906.75" y="597.00"/>
<use href="#hd" x="924.00" y="597.00"/>
<use href="#hc" x="941.25" y="597.00"/>
<use href="#hd" x="958.50" y="597.00"/>
<use href="#hd" x="975.75" y="597.00"/>
<use href="#hd" x="993.00" y="597.00"/>
<use href="#hc" x="1010.25" y="597.00"/>
<use href="#hd" x="1027.50" y="597.00"/>
<use href="#hd" x="1044.75" y="597.00"/>
<use href="#hd" x="1062.00" y="597.00"/>
<use href="#hc" x="1079.25" y="597.00"/>
<use href="#hd" x="1096.50" y="597.00"/>
<use href="#hd" x="1113.75" y="597.00"/>
<use href="#hd" x="889.50" y="614.25"/>
<use href="#hd" x="906.75" y="614.25"/>
<use href="#hd" x="924.00" y="614.25"/>
<use href="#hc" x="941.25" y="614.25"/>
<use href="#hd" x="958.50" y="614.25"/>
<use href="#hd" x="975.75" y="614.25"/>
<use href="#hd" x="993.00" y="614.25"/>
<use href="#hc" x="1010.25" y="614.25"/>
<use href="#hd" x="1027.50" y="614.25"/>
<use href="#hd" x="1044.75" y="614.25"/>
<use href="#hd" x="1062.00" y="614.25"/>
<use href="#hc" x="1079.25" y="614.25"/>
<use href="#hd" x="1096.50" y="614.25"/>
<use href="#hd" x="1113.75" y="614.25"/>
<use href="#hd" x="889.50" y="631.50"/>
<use href="#hd" x="906.75" y="631.50"/>
<use href="#hd" x="924.00" y="631.50"/>
<use href="#hc" x="941.25" y="631.50"/>
<use href="#hd" x="958.50" y="631.50"/>
<use href="#hd" x="975.75" y="631.50"/>
<use href="#hd" x="993.00" y="631.50"/>
<use href="#hc" x="1010.25" y="631.50"/>
<use href="#hd" x="1027.50" y="631.50"/>
<use href="#hd" x="1044.75" y="631.50"/>
<use href="#hd" x="1062.00" y="631.50"/>
<use href="#hc" x="1079.25" y="631.50"/>
<use href="#hd" x="1096.50" y="631.50"/>
<use href="#hd" x="1113.75" y="631.50"/>
<use href="#hd" x="924.00" y="373.40"/>
<use href="#hd" x="924.00" y="390.65"/>
<use href="#hc" x="924.00" y="683.25"/>
<use href="#hd" x="924.00" y="700.50"/>
<use href="#hd" x="941.25" y="373.40"/>
<use href="#hd" x="941.25" y="390.65"/>
<use href="#h" x="941.25" y="683.25"/>
<use href="#h" x="941.25" y="700.50"/>
<use href="#hd" x="958.50" y="373.40"/>
<use href="#hd" x="958.50" y="390.65"/>
<use href="#h" x="958.50" y="683.25"/>
<use href="#h" x="958.50" y="700.50"/>
<use href="#hd" x="975.75" y="373.40"/>
<use href="#hd" x="975.75" y="390.65"/>
<use href="#hc" x="975.75" y="683.25"/>
<use href="#hd" x="975.75" y="700.50"/>
<use href="#hd" x="993.00" y="373.40"/>
<use href="#hd" x="993.00" y="390.65"/>
<use href="#hc" x="993.00" y="683.25"/>
<use href="#hd" x="993.00" y="700.50"/>
<use href="#hd" x="1027.50" y="373.40"/>
<use href="#hd" x="1027.50" y="390.65"/>
<use href="#h" x="1027.50" y="683.25"/>
<use href="#h" x="1027.50" y="700.50"/>
<use href="#hd" x="1044.75" y="373.40"/>
<use href="#hd" x="1044.75" y="390.65"/>
<use href="#hc" x="1044.75" y="683.25"/>
<use href="#hd" x="1044.75" y="700.50"/>
<use href="#hd" x="1062.00" y="373.40"/>
<use href="#hd" x="1062.00" y="390.65"/>
<use href="#hc" x="1062.00" y="683.25"/>
<use href="#hd" x="1062.00" y="700.50"/>
<use href="#hd" x="1079.25" y="373.40"/>
<use href="#hd" x="1079.25" y="390.65"/>
<use href="#h" x="1079.25" y="683.25"/>
<use href="#h" x="1079.25" y="700.50"/>
<use href="#hd" x="1096.50" y="373.40"/>
<use href="#hd" x="1096.50" y="390.65"/>
<use href="#h" x="1096.50" y="683.25"/>
<use href="#h" x="1096.50" y="700.50"/>
<text transform="translate(893.50 429.00) rotate(-90)" font-family="Liberation Sans, sans-serif" font-size="11" fill="#b5b5b5" text-anchor="start">1</text>
<text transform="translate(893.50 658.60) rotate(-90)" font-family="Liberation Sans, sans-serif" font-size="11" fill="#b5b5b5" text-anchor="start">1</text>
<text transform="translate(962.50 429.00) rotate(-90)" font-family="Liberation Sans, sans-serif" font-size="11" fill="#b5b5b5" text-anchor="start">5</text>
<text transform="translate(962.50 658.60) rotate(-90)" font-family="Liberation Sans, sans-serif" font-size="11" fill="#b5b5b5" text-anchor="start">5</text>
<text transform="translate(1048.75 429.00) rotate(-90)" font-family="Liberation Sans, sans-serif" font-size="11" fill="#b5b5b5" text-anchor="start">10</text>
<text transform="translate(1048.75 658.60) rotate(-90)" font-family="Liberation Sans, sans-serif" font-size="11" fill="#b5b5b5" text-anchor="start">10</text>
<text transform="translate(878.30 442.85) rotate(-90)" font-family="Liberation Sans, sans-serif" font-size="11.6" fill="#b5b5b5" text-anchor="middle">J</text>
<text transform="translate(878.30 460.10) rotate(-90)" font-family="Liberation Sans, sans-serif" font-size="11.6" fill="#b5b5b5" text-anchor="middle">I</text>
<text transform="translate(878.30 477.35) rotate(-90)" font-family="Liberation Sans, sans-serif" font-size="11.6" fill="#b5b5b5" text-anchor="middle">H</text>
<text transform="translate(878.30 494.60) rotate(-90)" font-family="Liberation Sans, sans-serif" font-size="11.6" fill="#b5b5b5" text-anchor="middle">G</text>
<text transform="translate(878.30 511.85) rotate(-90)" font-family="Liberation Sans, sans-serif" font-size="11.6" fill="#b5b5b5" text-anchor="middle">F</text>
<text transform="translate(878.30 563.10) rotate(-90)" font-family="Liberation Sans, sans-serif" font-size="11.6" fill="#b5b5b5" text-anchor="middle">E</text>
<text transform="translate(878.30 580.35) rotate(-90)" font-family="Liberation Sans, sans-serif" font-size="11.6" fill="#b5b5b5" text-anchor="middle">D</text>
<text transform="translate(878.30 597.60) rotate(-90)" font-family="Liberation Sans, sans-serif" font-size="11.6" fill="#b5b5b5" text-anchor="middle">C</text>
<text transform="translate(878.30 614.85) rotate(-90)" font-family="Liberation Sans, sans-serif" font-size="11.6" fill="#b5b5b5" text-anchor="middle">B</text>
<text transform="translate(878.30 632.10) rotate(-90)" font-family="Liberation Sans, sans-serif" font-size="11.6" fill="#b5b5b5" text-anchor="middle">A</text>
</g>
<g id="bt">
<rect x="653.2" y="26" width="111.8" height="252.6" fill="#008000"/>
<rect x="663.6" y="25.6" width="2" height="1.6" fill="#8a8"/><rect x="749.8" y="25.6" width="2" height="1.6" fill="#8a8"/>
<rect x="665.7" y="35.9" width="86.8" height="184.4" fill="#008000" stroke="#006c00" stroke-width="0.6"/>
<rect x="665.7" y="35.9" width="86.8" height="30" fill="#04c20a"/>
<path d="M669.9 39.3 H676.3 V59.9 H685.1 V39.3 H693.5 V59.9 H702.3 V39.3 H710.7 V59.9 H719.2 V39.3 H727.8 V59.9 H736.5 V39.3 H744.8 V65.8" fill="none" stroke="#f8f824" stroke-width="3" stroke-linejoin="miter"/>
<rect x="658.8" y="86.50" width="7" height="6.8" fill="#ffa419"/>
<rect x="752.3" y="86.50" width="6.9" height="6.8" fill="#ffff33"/>
<text x="666.6" y="92.10" font-family="Liberation Sans, sans-serif" font-size="6" fill="#8cc48c" textLength="7.0" lengthAdjust="spacingAndGlyphs">TX</text>
<rect x="658.8" y="96.65" width="7" height="6.8" fill="#ffa419"/>
<rect x="752.3" y="96.65" width="6.9" height="6.8" fill="#ffff33"/>
<text x="666.6" y="102.25" font-family="Liberation Sans, sans-serif" font-size="6" fill="#8cc48c" textLength="7.0" lengthAdjust="spacingAndGlyphs">RX</text>
<rect x="658.8" y="106.80" width="7" height="6.8" fill="#ffff33"/>
<rect x="752.3" y="106.80" width="6.9" height="6.8" fill="#ffff33"/>
<text x="666.6" y="112.40" font-family="Liberation Sans, sans-serif" font-size="6" fill="#8cc48c" textLength="10.5" lengthAdjust="spacingAndGlyphs">CTS</text>
<rect x="658.8" y="116.95" width="7" height="6.8" fill="#ffff33"/>
<rect x="752.3" y="116.95" width="6.9" height="6.8" fill="#ffff33"/>
<text x="666.6" y="122.55" font-family="Liberation Sans, sans-serif" font-size="6" fill="#8cc48c" textLength="10.5" lengthAdjust="spacingAndGlyphs">RTS</text>
<rect x="658.8" y="127.10" width="7" height="6.8" fill="#ffff33"/>
<rect x="752.3" y="127.10" width="6.9" height="6.8" fill="#ffff33"/>
<text x="666.6" y="132.70" font-family="Liberation Sans, sans-serif" font-size="6" fill="#8cc48c" textLength="10.5" lengthAdjust="spacingAndGlyphs">CLK</text>
<rect x="658.8" y="137.25" width="7" height="6.8" fill="#ffff33"/>
<rect x="752.3" y="137.25" width="6.9" height="6.8" fill="#ffff33"/>
<text x="666.6" y="142.85" font-family="Liberation Sans, sans-serif" font-size="6" fill="#8cc48c" textLength="10.5" lengthAdjust="spacingAndGlyphs">OUT</text>
<rect x="658.8" y="147.40" width="7" height="6.8" fill="#ffff33"/>
<rect x="752.3" y="147.40" width="6.9" height="6.8" fill="#ffff33"/>
<text x="666.6" y="153.00" font-family="Liberation Sans, sans-serif" font-size="6" fill="#8cc48c" textLength="7.0" lengthAdjust="spacingAndGlyphs">IN</text>
<rect x="658.8" y="157.55" width="7" height="6.8" fill="#ffff33"/>
<rect x="752.3" y="157.55" width="6.9" height="6.8" fill="#ffff33"/>
<text x="666.6" y="163.15" font-family="Liberation Sans, sans-serif" font-size="6" fill="#8cc48c" textLength="10.5" lengthAdjust="spacingAndGlyphs">SYN</text>
<rect x="658.8" y="167.70" width="7" height="6.8" fill="#ffff33"/>
<rect x="752.3" y="167.70" width="6.9" height="6.8" fill="#ffff33"/>
<text x="666.6" y="173.30" font-family="Liberation Sans, sans-serif" font-size="6" fill="#8cc48c" textLength="17.5" lengthAdjust="spacingAndGlyphs">AIO-0</text>
<rect x="658.8" y="177.85" width="7" height="6.8" fill="#ffff33"/>
<rect x="752.3" y="177.85" width="6.9" height="6.8" fill="#ffff33"/>
<text x="666.6" y="183.45" font-family="Liberation Sans, sans-serif" font-size="6" fill="#8cc48c" textLength="17.5" lengthAdjust="spacingAndGlyphs">AIO-1</text>
<rect x="658.8" y="188.00" width="7" height="6.8" fill="#ffff33"/>
<rect x="752.3" y="188.00" width="6.9" height="6.8" fill="#ffff33"/>
<text x="666.6" y="193.60" font-family="Liberation Sans, sans-serif" font-size="6" fill="#8cc48c" textLength="17.5" lengthAdjust="spacingAndGlyphs">RESET</text>
<rect x="658.8" y="198.15" width="7" height="6.8" fill="#ffa419"/>
<rect x="752.3" y="198.15" width="6.9" height="6.8" fill="#ffff33"/>
<text x="666.6" y="203.75" font-family="Liberation Sans, sans-serif" font-size="6" fill="#8cc48c" textLength="14.0" lengthAdjust="spacingAndGlyphs">3.3V</text>
<rect x="658.8" y="208.30" width="7" height="6.8" fill="#ffa419"/>
<rect x="752.3" y="208.30" width="6.9" height="6.8" fill="#ffff33"/>
<text x="666.6" y="213.90" font-family="Liberation Sans, sans-serif" font-size="6" fill="#8cc48c" textLength="10.5" lengthAdjust="spacingAndGlyphs">GRD</text>
<rect x="670.30" y="220.8" width="7" height="6.6" fill="#ffff33"/>
<rect x="680.30" y="220.8" width="7" height="6.6" fill="#ffff33"/>
<rect x="690.30" y="220.8" width="7" height="6.6" fill="#ffff33"/>
<rect x="700.30" y="220.8" width="7" height="6.6" fill="#ffff33"/>
<rect x="710.30" y="220.8" width="7" height="6.6" fill="#ffff33"/>
<rect x="720.30" y="220.8" width="7" height="6.6" fill="#ffff33"/>
<rect x="730.30" y="220.8" width="7" height="6.6" fill="#ffff33"/>
<rect x="740.30" y="220.8" width="7" height="6.6" fill="#ffff33"/>
<rect x="695.3" y="112.6" width="53.8" height="53.4" fill="#000"/>
<rect x="695.3" y="178.1" width="53.8" height="39.8" fill="#000"/>
<text transform="translate(734.3 138.5) rotate(90)" font-family="Liberation Sans, sans-serif" font-size="10.3" font-weight="bold" fill="#fff" text-anchor="middle" textLength="15.3" lengthAdjust="spacingAndGlyphs">CSr</text>
<text transform="translate(724.2 139.1) rotate(90)" font-family="Liberation Sans, sans-serif" font-size="7.9" font-weight="normal" fill="#fff" text-anchor="middle" textLength="19.2" lengthAdjust="spacingAndGlyphs">BC417</text>
<text transform="translate(715.5 140.0) rotate(90)" font-family="Liberation Sans, sans-serif" font-size="7.3" font-weight="normal" fill="#fff" text-anchor="middle" textLength="25.4" lengthAdjust="spacingAndGlyphs">143BGQ</text>
<rect x="701" y="229.7" width="3.8" height="9.4" fill="#333"/>
<text transform="translate(756.6 233.6) rotate(-90)" font-family="Liberation Sans, sans-serif" font-size="4" fill="#cfe8cf">1</text>
<text transform="translate(670.00 261.6) rotate(-90)" font-family="Liberation Sans, sans-serif" font-weight="bold" font-size="12.2" fill="#fff">State</text>
<circle cx="666.40" cy="270" r="5.3" fill="none" stroke="#86a886" stroke-width="0.9" opacity="0.8"/><circle cx="666.40" cy="270" r="3.4" fill="#fbb4b8"/>
<text transform="translate(687.25 261.6) rotate(-90)" font-family="Liberation Sans, sans-serif" font-weight="bold" font-size="12.2" fill="#fff">RX</text>
<circle cx="683.65" cy="270" r="5.1" fill="none" stroke="#8aa874" stroke-width="1.8"/>
<text transform="translate(704.50 261.6) rotate(-90)" font-family="Liberation Sans, sans-serif" font-weight="bold" font-size="12.2" fill="#fff">TX</text>
<circle cx="700.90" cy="270" r="5.1" fill="none" stroke="#8aa874" stroke-width="1.8"/>
<text transform="translate(721.75 261.6) rotate(-90)" font-family="Liberation Sans, sans-serif" font-weight="bold" font-size="12.2" fill="#fff">GND</text>
<circle cx="718.15" cy="270" r="5.1" fill="none" stroke="#8aa874" stroke-width="1.8"/>
<text transform="translate(739.00 261.6) rotate(-90)" font-family="Liberation Sans, sans-serif" font-weight="bold" font-size="12.2" fill="#fff">Vcc</text>
<circle cx="735.40" cy="270" r="5.1" fill="none" stroke="#8aa874" stroke-width="1.8"/>
<text transform="translate(756.25 261.6) rotate(-90)" font-family="Liberation Sans, sans-serif" font-weight="bold" font-size="12.2" fill="#fff">Key</text>
<circle cx="752.65" cy="270" r="5.3" fill="none" stroke="#86a886" stroke-width="0.9" opacity="0.8"/><circle cx="752.65" cy="270" r="3.4" fill="#fbb4b8"/>
</g>
<g id="wires">
<path d="M301.50 618.40 L301.50 683.60 L735.40 683.60 L735.40 277.00" fill="none" stroke="#8c0000" stroke-width="7.2" stroke-linecap="round" stroke-linejoin="round"/>
<path d="M301.50 618.40 L301.50 683.60 L735.40 683.60 L735.40 277.00" fill="none" stroke="#cc1414" stroke-width="4.7" stroke-linecap="round" stroke-linejoin="round"/>
<circle cx="301.50" cy="683.60" r="3.9" fill="#8c0000"/>
<circle cx="735.40" cy="683.60" r="3.9" fill="#8c0000"/>
<circle cx="301.50" cy="618.90" r="4.0" fill="#de5a5c"/>
<rect x="731.95" y="270.2" width="6.9" height="8" fill="#8c0000"/><rect x="733.15" y="270.2" width="4.5" height="8" fill="#cc1414"/><rect x="731.95" y="270.2" width="6.9" height="1" fill="#ff1010"/>
<path d="M318.75 618.40 L318.75 658.70 L821.20 658.70 L821.20 683.40 L924.00 683.25" fill="none" stroke="#000000" stroke-width="7.2" stroke-linecap="round" stroke-linejoin="round"/>
<path d="M318.75 618.40 L318.75 658.70 L821.20 658.70 L821.20 683.40 L924.00 683.25" fill="none" stroke="#404040" stroke-width="4.7" stroke-linecap="round" stroke-linejoin="round"/>
<circle cx="318.75" cy="658.70" r="3.9" fill="#000000"/>
<circle cx="821.20" cy="658.70" r="3.9" fill="#000000"/>
<circle cx="821.20" cy="683.40" r="3.9" fill="#000000"/>
<circle cx="318.75" cy="618.90" r="3.7" fill="#707070"/>
<circle cx="924.00" cy="683.25" r="3.2" fill="#707070"/>
<path d="M717.90 658.70 L717.90 270.00" fill="none" stroke="#000000" stroke-width="7.2" stroke-linecap="round" stroke-linejoin="round"/>
<path d="M717.90 658.70 L717.90 270.00" fill="none" stroke="#404040" stroke-width="4.7" stroke-linecap="round" stroke-linejoin="round"/>
<circle cx="717.90" cy="658.70" r="3.2" fill="#707070"/>
<circle cx="717.90" cy="270.00" r="3.2" fill="#2f6f3f"/>
<path d="M456.80 292.20 L456.80 218.50 L631.80 218.50 L631.80 357.00 L684.00 357.00 L684.00 270.00" fill="none" stroke="#dcd62c" stroke-width="7.2" stroke-linecap="round" stroke-linejoin="round"/>
<path d="M456.80 292.20 L456.80 218.50 L631.80 218.50 L631.80 357.00 L684.00 357.00 L684.00 270.00" fill="none" stroke="#ffff0a" stroke-width="4.7" stroke-linecap="round" stroke-linejoin="round"/>
<circle cx="456.80" cy="218.50" r="3.9" fill="#dcd62c"/>
<circle cx="631.80" cy="218.50" r="3.9" fill="#dcd62c"/>
<circle cx="631.80" cy="357.00" r="3.9" fill="#dcd62c"/>
<circle cx="684.00" cy="357.00" r="3.9" fill="#dcd62c"/>
<circle cx="456.80" cy="291.40" r="4.1" fill="#fbfb62"/>
<circle cx="684.00" cy="270.00" r="3.2" fill="#d4e63a"/>
<path d="M474.00 292.20 L474.00 236.00 L614.40 236.00 L614.40 374.40 L700.60 374.40 L700.60 270.00" fill="none" stroke="#164fb8" stroke-width="7.2" stroke-linecap="round" stroke-linejoin="round"/>
<path d="M474.00 292.20 L474.00 236.00 L614.40 236.00 L614.40 374.40 L700.60 374.40 L700.60 270.00" fill="none" stroke="#4690de" stroke-width="4.7" stroke-linecap="round" stroke-linejoin="round"/>
<circle cx="474.00" cy="236.00" r="3.9" fill="#164fb8"/>
<circle cx="614.40" cy="236.00" r="3.9" fill="#164fb8"/>
<circle cx="614.40" cy="374.40" r="3.9" fill="#164fb8"/>
<circle cx="700.60" cy="374.40" r="3.9" fill="#164fb8"/>
<circle cx="474.00" cy="291.40" r="4.1" fill="#6ea2e6"/>
<circle cx="700.60" cy="270.00" r="3.2" fill="#2f9fb0"/>
<path d="M353.20 292.20 L353.20 167.10 L562.80 167.10 L562.80 442.90 L804.20 442.90 L804.20 304.90 L1079.25 304.90 L1079.25 442.25" fill="none" stroke="#8c0000" stroke-width="7.2" stroke-linecap="round" stroke-linejoin="round"/>
<path d="M353.20 292.20 L353.20 167.10 L562.80 167.10 L562.80 442.90 L804.20 442.90 L804.20 304.90 L1079.25 304.90 L1079.25 442.25" fill="none" stroke="#cc1414" stroke-width="4.7" stroke-linecap="round" stroke-linejoin="round"/>
<circle cx="353.20" cy="167.10" r="3.9" fill="#8c0000"/>
<circle cx="562.80" cy="167.10" r="3.9" fill="#8c0000"/>
<circle cx="562.80" cy="442.90" r="3.9" fill="#8c0000"/>
<circle cx="804.20" cy="442.90" r="3.9" fill="#8c0000"/>
<circle cx="804.20" cy="304.90" r="3.9" fill="#8c0000"/>
<circle cx="1079.25" cy="304.90" r="3.9" fill="#8c0000"/>
<circle cx="353.20" cy="291.40" r="4.1" fill="#de5a5c"/>
<circle cx="1079.25" cy="442.25" r="3.2" fill="#de5a5c"/>
<path d="M370.50 292.20 L370.50 184.30 L545.80 184.30 L545.80 459.80 L821.20 459.80 L821.20 321.80 L1010.25 321.80 L1010.25 442.25" fill="none" stroke="#555555" stroke-width="7.2" stroke-linecap="round" stroke-linejoin="round"/>
<path d="M370.50 292.20 L370.50 184.30 L545.80 184.30 L545.80 459.80 L821.20 459.80 L821.20 321.80 L1010.25 321.80 L1010.25 442.25" fill="none" stroke="#999999" stroke-width="4.7" stroke-linecap="round" stroke-linejoin="round"/>
<circle cx="370.50" cy="184.30" r="3.9" fill="#555555"/>
<circle cx="545.80" cy="184.30" r="3.9" fill="#555555"/>
<circle cx="545.80" cy="459.80" r="3.9" fill="#555555"/>
<circle cx="821.20" cy="459.80" r="3.9" fill="#555555"/>
<circle cx="821.20" cy="321.80" r="3.9" fill="#555555"/>
<circle cx="1010.25" cy="321.80" r="3.9" fill="#555555"/>
<circle cx="370.50" cy="291.40" r="4.1" fill="#bdbdbd"/>
<circle cx="1010.25" cy="442.25" r="3.2" fill="#bdbdbd"/>
<path d="M387.75 292.20 L387.75 201.20 L528.60 201.20 L528.60 476.90 L838.40 476.90 L838.40 339.30 L941.25 339.30 L941.25 442.25" fill="none" stroke="#08a020" stroke-width="7.2" stroke-linecap="round" stroke-linejoin="round"/>
<path d="M387.75 292.20 L387.75 201.20 L528.60 201.20 L528.60 476.90 L838.40 476.90 L838.40 339.30 L941.25 339.30 L941.25 442.25" fill="none" stroke="#25cc35" stroke-width="4.7" stroke-linecap="round" stroke-linejoin="round"/>
<circle cx="387.75" cy="201.20" r="3.9" fill="#08a020"/>
<circle cx="528.60" cy="201.20" r="3.9" fill="#08a020"/>
<circle cx="528.60" cy="476.90" r="3.9" fill="#08a020"/>
<circle cx="838.40" cy="476.90" r="3.9" fill="#08a020"/>
<circle cx="838.40" cy="339.30" r="3.9" fill="#08a020"/>
<circle cx="941.25" cy="339.30" r="3.9" fill="#08a020"/>
<circle cx="387.75" cy="291.40" r="4.1" fill="#66dd70"/>
<circle cx="941.25" cy="442.25" r="3.2" fill="#66dd70"/>
</g>
<path d="M941.25 511.25 V579.75" stroke="#8f8f8f" stroke-width="4.4" stroke-linecap="round"/>
<path d="M941.25 511.25 V514.6" stroke="#a6a6a6" stroke-width="4.4" stroke-linecap="round"/><path d="M941.25 576.4 V579.75" stroke="#a6a6a6" stroke-width="4.4" stroke-linecap="round"/>
<clipPath id="rc4"><path d="M934.85 523.6 H947.65 Q949.45 523.6 949.45 525.4 V533 Q949.45 535.6 947.85 536.6 V554 Q949.45 555 949.45 557.6 V565.2 Q949.45 567 947.65 567 H934.85 Q933.05 567 933.05 565.2 V557.6 Q933.05 555 934.65 554 V536.6 Q933.05 535.6 933.05 533 V525.4 Q933.05 523.6 934.85 523.6 Z"/></clipPath>
<g clip-path="url(#rc4)">
<rect x="932.25" y="523" width="18" height="45" fill="#dfb878"/>
<rect x="932.25" y="529.4" width="18" height="4.6" fill="#ff4500"/>
<rect x="932.25" y="538.8" width="18" height="4.3" fill="#ff4500"/>
<rect x="932.25" y="547.8" width="18" height="4" fill="#8b3306"/>
<rect x="932.25" y="561.6" width="18" height="1.5" fill="#8f8414"/>
<rect x="932.25" y="523" width="4.2" height="45" fill="#000" opacity="0.16"/>
<rect x="945.45" y="523" width="1.2" height="45" fill="#fff" opacity="0.25"/>
</g>
<path d="M1010.25 511.25 V579.75" stroke="#8f8f8f" stroke-width="4.4" stroke-linecap="round"/>
<path d="M1010.25 511.25 V514.6" stroke="#a6a6a6" stroke-width="4.4" stroke-linecap="round"/><path d="M1010.25 576.4 V579.75" stroke="#a6a6a6" stroke-width="4.4" stroke-linecap="round"/>
<clipPath id="rc8"><path d="M1003.85 523.6 H1016.65 Q1018.45 523.6 1018.45 525.4 V533 Q1018.45 535.6 1016.85 536.6 V554 Q1018.45 555 1018.45 557.6 V565.2 Q1018.45 567 1016.65 567 H1003.85 Q1002.05 567 1002.05 565.2 V557.6 Q1002.05 555 1003.65 554 V536.6 Q1002.05 535.6 1002.05 533 V525.4 Q1002.05 523.6 1003.85 523.6 Z"/></clipPath>
<g clip-path="url(#rc8)">
<rect x="1001.25" y="523" width="18" height="45" fill="#dfb878"/>
<rect x="1001.25" y="529.4" width="18" height="4.6" fill="#ff4500"/>
<rect x="1001.25" y="538.8" width="18" height="4.3" fill="#ff4500"/>
<rect x="1001.25" y="547.8" width="18" height="4" fill="#8b3306"/>
<rect x="1001.25" y="561.6" width="18" height="1.5" fill="#8f8414"/>
<rect x="1001.25" y="523" width="4.2" height="45" fill="#000" opacity="0.16"/>
<rect x="1014.45" y="523" width="1.2" height="45" fill="#fff" opacity="0.25"/>
</g>
<path d="M1079.25 511.25 V579.75" stroke="#8f8f8f" stroke-width="4.4" stroke-linecap="round"/>
<path d="M1079.25 511.25 V514.6" stroke="#a6a6a6" stroke-width="4.4" stroke-linecap="round"/><path d="M1079.25 576.4 V579.75" stroke="#a6a6a6" stroke-width="4.4" stroke-linecap="round"/>
<clipPath id="rc12"><path d="M1072.85 523.6 H1085.65 Q1087.45 523.6 1087.45 525.4 V533 Q1087.45 535.6 1085.85 536.6 V554 Q1087.45 555 1087.45 557.6 V565.2 Q1087.45 567 1085.65 567 H1072.85 Q1071.05 567 1071.05 565.2 V557.6 Q1071.05 555 1072.65 554 V536.6 Q1071.05 535.6 1071.05 533 V525.4 Q1071.05 523.6 1072.85 523.6 Z"/></clipPath>
<g clip-path="url(#rc12)">
<rect x="1070.25" y="523" width="18" height="45" fill="#dfb878"/>
<rect x="1070.25" y="529.4" width="18" height="4.6" fill="#ff4500"/>
<rect x="1070.25" y="538.8" width="18" height="4.3" fill="#ff4500"/>
<rect x="1070.25" y="547.8" width="18" height="4" fill="#8b3306"/>
<rect x="1070.25" y="561.6" width="18" height="1.5" fill="#8f8414"/>
<rect x="1070.25" y="523" width="4.2" height="45" fill="#000" opacity="0.16"/>
<rect x="1083.45" y="523" width="1.2" height="45" fill="#fff" opacity="0.25"/>
</g>
<path d="M941.25 631.5 V717.6 L948.95 725.6 V733" fill="none" stroke="#8a8a8a" stroke-width="4.7" stroke-linecap="round" stroke-linejoin="round"/>
<path d="M958.50 683.25 V733" fill="none" stroke="#8a8a8a" stroke-width="4.7" stroke-linecap="round"/>
<path d="M941.25 631.5 V643" stroke="#9f9f9f" stroke-width="4.7" stroke-linecap="round"/><path d="M958.50 683.25 V694.8" stroke="#9f9f9f" stroke-width="4.7" stroke-linecap="round"/>
<path d="M950.85 731.3 C958.35 731.3 964.85 733.4 969.25 737.4 V757 H936.45 C933.35 755.5 931.75 751 931.75 746.5 C931.75 738 940.35 731.3 950.85 731.3 Z" fill="#3cf08f"/>
<path d="M935.45 744 C935.45 738 944.35 734.6 952.35 734.6 C960.35 734.6 969.25 737.4 969.25 741 V770.1 A16.9 16.9 0 0 1 935.45 770.1 Z" fill="#5ef7a8"/>
<rect x="946.85" y="737.8" width="4.2" height="2.8" fill="#3cc07c" opacity="0.35"/>
<rect x="956.40" y="737.8" width="4.2" height="2.8" fill="#3cc07c" opacity="0.35"/>
<rect x="940.95" y="749" width="1.9" height="17.3" fill="#3cc07c"/>
<path d="M942.85 756 H960.95 V765.4 H942.85 Z" fill="#3cc07c"/>
<path d="M943.15 765.4 L953.55 756" stroke="#5ef7a8" stroke-width="1.5"/>
<path d="M961.55 738.4 L967.55 740.4 V771 A15.4 15.4 0 0 1 959.75 782.2 L956.95 779.4 A10.6 10.6 0 0 0 961.55 771 Z" fill="#b4fcd8" opacity="0.38"/>
<rect x="961.95" y="749" width="1.7" height="17.3" fill="#3cc07c" opacity="0.45"/>
<path d="M961.95 739 V771 A10.8 10.8 0 0 1 957.35 779.6" fill="none" stroke="#b4fcd8" stroke-width="1.1" opacity="0.8"/>
<path d="M942.75 778.8 L948.15 782.8" fill="none" stroke="#b4fcd8" stroke-width="1.9" stroke-linecap="round" opacity="0.85"/>
<path d="M942.85 739.6 C949.35 736.6 958.35 736.6 964.85 739.2" fill="none" stroke="#b4fcd8" stroke-width="1.1" opacity="0.7"/>
<path d="M1010.25 631.5 V717.6 L1017.95 725.6 V733" fill="none" stroke="#8a8a8a" stroke-width="4.7" stroke-linecap="round" stroke-linejoin="round"/>
<path d="M1027.50 683.25 V733" fill="none" stroke="#8a8a8a" stroke-width="4.7" stroke-linecap="round"/>
<path d="M1010.25 631.5 V643" stroke="#9f9f9f" stroke-width="4.7" stroke-linecap="round"/><path d="M1027.50 683.25 V694.8" stroke="#9f9f9f" stroke-width="4.7" stroke-linecap="round"/>
<path d="M1019.85 731.3 C1027.35 731.3 1033.85 733.4 1038.25 737.4 V757 H1005.45 C1002.35 755.5 1000.75 751 1000.75 746.5 C1000.75 738 1009.35 731.3 1019.85 731.3 Z" fill="#f5dc50"/>
<path d="M1004.45 744 C1004.45 738 1013.35 734.6 1021.35 734.6 C1029.35 734.6 1038.25 737.4 1038.25 741 V770.1 A16.9 16.9 0 0 1 1004.45 770.1 Z" fill="#f7e576"/>
<rect x="1015.85" y="737.8" width="4.2" height="2.8" fill="#c4b04e" opacity="0.35"/>
<rect x="1025.40" y="737.8" width="4.2" height="2.8" fill="#c4b04e" opacity="0.35"/>
<rect x="1009.95" y="749" width="1.9" height="17.3" fill="#c4b04e"/>
<path d="M1011.85 756 H1029.95 V765.4 H1011.85 Z" fill="#c4b04e"/>
<path d="M1012.15 765.4 L1022.55 756" stroke="#f7e576" stroke-width="1.5"/>
<path d="M1030.55 738.4 L1036.55 740.4 V771 A15.4 15.4 0 0 1 1028.75 782.2 L1025.95 779.4 A10.6 10.6 0 0 0 1030.55 771 Z" fill="#fcf3bc" opacity="0.38"/>
<rect x="1030.95" y="749" width="1.7" height="17.3" fill="#c4b04e" opacity="0.45"/>
<path d="M1030.95 739 V771 A10.8 10.8 0 0 1 1026.35 779.6" fill="none" stroke="#fcf3bc" stroke-width="1.1" opacity="0.8"/>
<path d="M1011.75 778.8 L1017.15 782.8" fill="none" stroke="#fcf3bc" stroke-width="1.9" stroke-linecap="round" opacity="0.85"/>
<path d="M1011.85 739.6 C1018.35 736.6 1027.35 736.6 1033.85 739.2" fill="none" stroke="#fcf3bc" stroke-width="1.1" opacity="0.7"/>
<path d="M1079.25 631.5 V717.6 L1086.95 725.6 V733" fill="none" stroke="#8a8a8a" stroke-width="4.7" stroke-linecap="round" stroke-linejoin="round"/>
<path d="M1096.50 683.25 V733" fill="none" stroke="#8a8a8a" stroke-width="4.7" stroke-linecap="round"/>
<path d="M1079.25 631.5 V643" stroke="#9f9f9f" stroke-width="4.7" stroke-linecap="round"/><path d="M1096.50 683.25 V694.8" stroke="#9f9f9f" stroke-width="4.7" stroke-linecap="round"/>
<path d="M1088.85 731.3 C1096.35 731.3 1102.85 733.4 1107.25 737.4 V757 H1074.45 C1071.35 755.5 1069.75 751 1069.75 746.5 C1069.75 738 1078.35 731.3 1088.85 731.3 Z" fill="#e81c24"/>
<path d="M1073.45 744 C1073.45 738 1082.35 734.6 1090.35 734.6 C1098.35 734.6 1107.25 737.4 1107.25 741 V770.1 A16.9 16.9 0 0 1 1073.45 770.1 Z" fill="#e93c3c"/>
<rect x="1084.85" y="737.8" width="4.2" height="2.8" fill="#b82222" opacity="0.35"/>
<rect x="1094.40" y="737.8" width="4.2" height="2.8" fill="#b82222" opacity="0.35"/>
<rect x="1078.95" y="749" width="1.9" height="17.3" fill="#b82222"/>
<path d="M1080.85 756 H1098.95 V765.4 H1080.85 Z" fill="#b82222"/>
<path d="M1081.15 765.4 L1091.55 756" stroke="#e93c3c" stroke-width="1.5"/>
<path d="M1099.55 738.4 L1105.55 740.4 V771 A15.4 15.4 0 0 1 1097.75 782.2 L1094.95 779.4 A10.6 10.6 0 0 0 1099.55 771 Z" fill="#f59a9a" opacity="0.38"/>
<rect x="1099.95" y="749" width="1.7" height="17.3" fill="#b82222" opacity="0.45"/>
<path d="M1099.95 739 V771 A10.8 10.8 0 0 1 1095.35 779.6" fill="none" stroke="#f59a9a" stroke-width="1.1" opacity="0.8"/>
<path d="M1080.75 778.8 L1086.15 782.8" fill="none" stroke="#f59a9a" stroke-width="1.9" stroke-linecap="round" opacity="0.85"/>
<path d="M1080.85 739.6 C1087.35 736.6 1096.35 736.6 1102.85 739.2" fill="none" stroke="#f59a9a" stroke-width="1.1" opacity="0.7"/>
</svg>
</body></html>
